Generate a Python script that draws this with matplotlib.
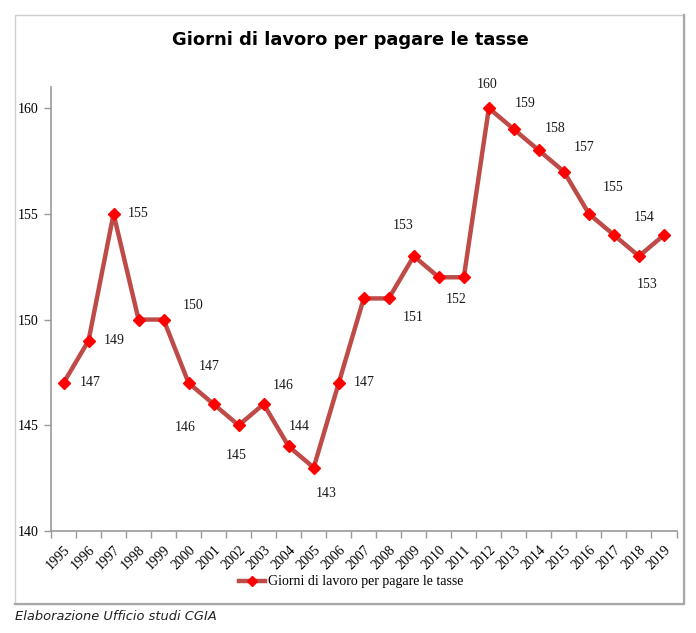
import numpy as np
import matplotlib
matplotlib.use("Agg")
import matplotlib.pyplot as plt
from matplotlib.patches import Rectangle
from matplotlib.lines import Line2D

anni = [str(a) for a in range(1995, 2020)]
giorni = [147, 149, 155, 150, 150, 147, 146, 145, 146, 144, 143, 147, 151,
          151, 153, 152, 152, 160, 159, 158, 157, 155, 154, 153, 154]

# spostamento etichette (pixel), None = nessuna etichetta
offset_etichette = [(27, 0), (26, 0), (25, 0), None, (30, -14), (21, -16),
                    (-28, 23), (-2, 30), (20, -19), (11, -20), (12, 26),
                    (25, 0), None, (24, 19), (-11, -31), None, (-8, 22),
                    (-2, -24), (11, -26), (16, -22), (20, -24), (24, -26),
                    (30, -17), (8, 28), None]

W, H = 696, 633
fig = plt.figure(figsize=(W / 100, H / 100), dpi=100)

# cornice del grafico
fig.add_artist(Rectangle((15 / W, 1 - 604 / H), 669 / W, 589 / H,
                         transform=fig.transFigure, fill=False,
                         edgecolor="#d0d0d0", linewidth=1.0))
fig.add_artist(Line2D([684 / W, 684 / W, 15 / W], [1 - 15 / H, 1 - 604 / H, 1 - 604 / H],
                      transform=fig.transFigure, color="#a8a8a8", linewidth=1.6))

ax = fig.add_axes([51 / W, 1 - 531 / H, 625.5 / W, 444 / H])
x = np.arange(len(anni))
linea, = ax.plot(x, giorni, color="#be4b48", linewidth=3.2, marker="D",
                 markersize=6, markerfacecolor="#ff0000",
                 markeredgecolor="#ff0000",
                 label="Giorni di lavoro per pagare le tasse")

for xi, v, off in zip(x, giorni, offset_etichette):
    if off is None:
        continue
    ax.annotate(str(v), (xi, v), xytext=(off[0] * 0.72, -off[1] * 0.72),
                textcoords="offset points", ha="center", va="center",
                fontsize=10, family="Liberation Serif", color="#1a1a1a")

ax.set_xlim(-0.5, len(anni) - 0.5)
ax.set_ylim(140, 161)
ax.set_yticks([140, 145, 150, 155, 160])
ax.set_xticks(x)
ax.set_xticklabels(anni, rotation=45, ha="right", rotation_mode="anchor",
                   family="Liberation Serif", fontsize=10)
ax.set_xticks(np.arange(-0.5, len(anni)), minor=True)
ax.tick_params(axis="x", which="major", length=0, pad=9)
ax.tick_params(axis="x", which="minor", length=5, color="#999999", width=1)
ax.tick_params(axis="y", length=5, color="#999999", width=1, pad=4)
for t in ax.get_yticklabels():
    t.set_family("Liberation Serif")
    t.set_fontsize(10)

for s in ["top", "right"]:
    ax.spines[s].set_visible(False)
for s in ["left", "bottom"]:
    ax.spines[s].set_color("#999999")
    ax.spines[s].set_linewidth(1.2)

fig.text(0.503, 1 - 40 / H, "Giorni di lavoro per pagare le tasse",
         ha="center", va="center", fontsize=12.9, fontweight="bold",
         family="DejaVu Sans")

fig.legend(handles=[linea], loc="center", bbox_to_anchor=(351 / W, 1 - 582 / H),
           frameon=False, prop={"family": "Liberation Serif", "size": 10},
           handlelength=1.9, handletextpad=0.15, markerscale=0.8)

fig.text(15 / W, 1 - 617 / H, "Elaborazione Ufficio studi CGIA",
         ha="left", va="center", fontsize=9.4, style="italic",
         family="DejaVu Sans", color="#222222")

fig.savefig("out.png", dpi=100)
